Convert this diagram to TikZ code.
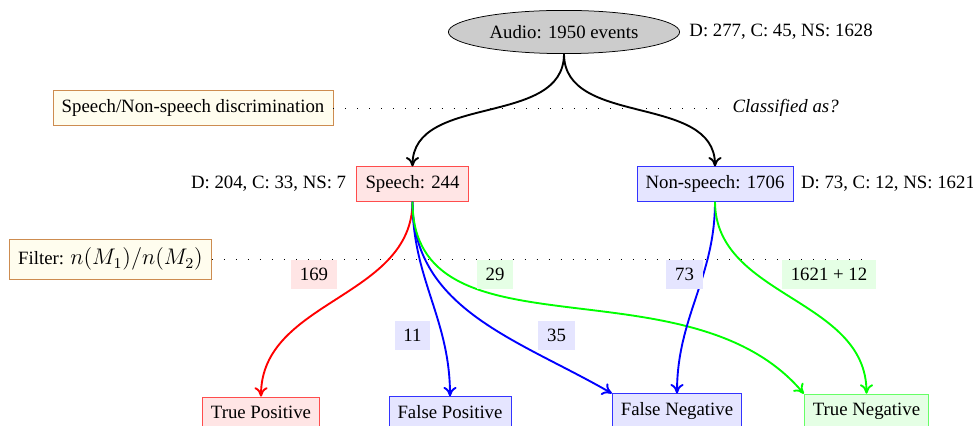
\documentclass[tikz,border=0pt]{standalone}
\usepackage[no-math]{fontspec}
\setmainfont{Liberation Serif}
\usetikzlibrary{shapes.geometric,positioning,arrows.meta}
\definecolor{notefill}{RGB}{255,253,238}
\definecolor{notedraw}{RGB}{205,140,80}

\begin{document}
\begin{tikzpicture}[x=0.532pt,y=0.532pt,
    box/.style={draw,rectangle,inner sep=4.6pt},
    note/.style={box,fill=notefill,draw=notedraw},
    posbox/.style={box,fill=red!10,draw=red!70},
    negbox/.style={box,fill=blue!10,draw=blue!80},
    okbox/.style={box,fill=green!10,draw=green!60},
    count/.style={rectangle,inner sep=4.6pt},
    link/.style={line width=1pt,-{To[length=5pt,width=7pt]}},
    guide/.style={dash pattern=on 0.4pt off 6pt}]
  \useasboundingbox (0,0) rectangle (973,-426);
  \node[ellipse,draw,fill=gray!40,minimum width=123pt,minimum height=23pt] (audio) at (564,-32) {Audio: 1950 events};
  \node[right=1.5pt of audio] (audioinfo) {D: 277, C: 45, NS: 1628};

  \node[note] (disc) at (193,-108) {Speech/Non-speech discrimination};
  \node[anchor=west] (classified) at (726,-108) {\textit{Classified as?}};
  \draw[guide] (disc) -- (classified);

  \node[posbox] (speech) at (412.5,-184) {Speech: 244};
  \node[negbox] (nonspeech) at (715,-184) {Non-speech: 1706};
  \node[left=2pt of speech] (speechinfo) {D: 204, C: 33, NS: 7};
  \node[right=0.5pt of nonspeech] (nonspeechinfo) {D: 73, C: 12, NS: 1621};

  \node[note] (filter) at (110.5,-259) {Filter: {\fontsize{11.5}{13}\selectfont$n(M_1)/n(M_2)$}};
  \coordinate (filterend) at (866,-259);
  \draw[guide] (filter) -- (filterend);

  \node[posbox] (tp) at (261,-412) {True Positive};
  \node[negbox] (fp) at (450,-412) {False Positive};
  \node[negbox] (fn) at (677,-411) {False Negative};
  \node[okbox]  (tn) at (866.5,-411) {True Negative};

  \draw[link] (audio.south) to[out=-90,in=90] (speech.north);
  \draw[link] (audio.south) to[out=-90,in=90] (nonspeech.north);
  \draw[link,red] (speech.south) to[out=-90,in=90] (tp.north);
  \draw[link,blue] (speech.south) to[out=-90,in=90] (fp.north);
  \draw[link,blue] (speech.south) to[out=-90,in=150] (fn.north west);
  \draw[link,green] (speech.south) to[out=-90,in=130,out looseness=0.95,in looseness=1.05] (tn.north west);
  \draw[link,blue] (nonspeech.south) to[out=-90,in=90] (fn.north);
  \draw[link,green] (nonspeech.south) to[out=-90,in=90] (tn.north);

  \node[count,fill=red!10] (tpcount) at (314,-274.5) {169};
  \node[count,fill=green!10] (tnspeech) at (495,-274.5) {29};
  \node[count,fill=blue!10] (fncount) at (684.5,-274.5) {73};
  \node[count,fill=green!10] (tncount) at (829,-274.5) {1621 + 12};
  \node[count,fill=blue!10] (fpcount) at (412.5,-335.5) {11};
  \node[count,fill=blue!10] (fnspeech) at (556.5,-335.5) {35};
\end{tikzpicture}
\end{document}
